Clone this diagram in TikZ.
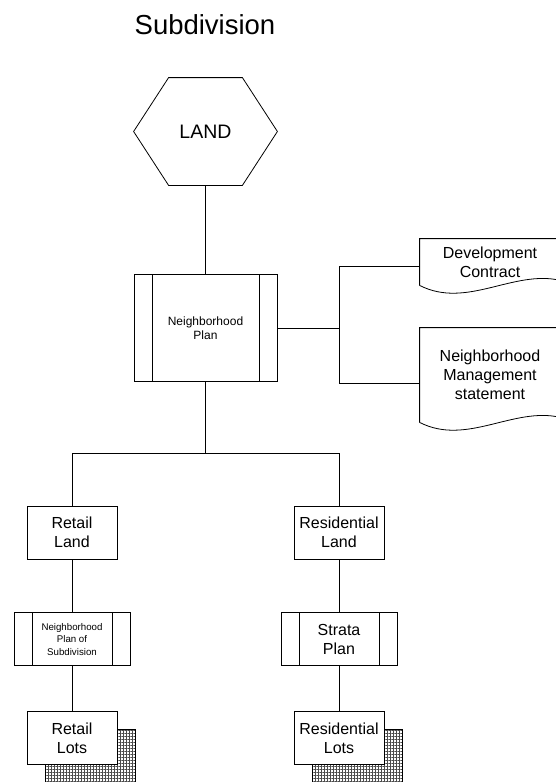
\documentclass[tikz,border=0pt]{standalone}
\usepackage{fontspec}
\setmainfont{Liberation Sans}
\usetikzlibrary{positioning,patterns.meta,shadows}

\begin{document}
\begin{tikzpicture}[
  x=1pt, y=1pt, line width=0.8pt,
  box/.style={draw, fill=white, minimum width=90pt, minimum height=53pt, inner sep=0pt, align=center, font=\fontsize{16}{19}\selectfont},
  procbox/.style={box, minimum width=116pt,
    path picture={
      \draw ([xshift=18pt]path picture bounding box.north west) -- ([xshift=18pt]path picture bounding box.south west);
      \draw ([xshift=-18pt]path picture bounding box.north east) -- ([xshift=-18pt]path picture bounding box.south east);
    }},
  docbox/.style={minimum width=140pt, inner sep=0pt, align=center, font=\fontsize{16}{19}\selectfont},
  lotbox/.style={box, general shadow={draw, pattern color=black!70,
    pattern={Hatch[distance=3pt, angle=0, line width=1pt]}, shadow xshift=18pt, shadow yshift=-18pt}},
  hexbox/.style={minimum width=143pt, minimum height=107pt, inner sep=0pt, font=\fontsize{19.5}{23}\selectfont},
  node distance=53pt
]
\useasboundingbox (0,0) rectangle (556,-782);

\node[font=\fontsize{27.5}{33}\selectfont] (title) at (205,-25) {Subdivision};

% land and the neighborhood plan
\node[hexbox] (land) at (205.5,-131.5) {LAND};
\draw (land.west) -- ([xshift=35pt]land.north west) -- ([xshift=-35pt]land.north east)
  -- (land.east) -- ([xshift=-35pt]land.south east) -- ([xshift=35pt]land.south west) -- cycle;

\node[procbox, minimum width=143pt, minimum height=107pt, font=\fontsize{12}{14.5}\selectfont,
  below=89pt of land] (plan) {Neighborhood\\Plan};

% documents on the right
\node[docbox, minimum height=46pt] (dev) at (490,-262) {Development\\Contract};
\node[docbox, minimum height=94pt] (nms) at (490,-375) {Neighborhood\\Management\\statement};
\foreach \doc in {dev,nms}
  \draw (\doc.south west) -- (\doc.north west) -- (\doc.north east) -- ([yshift=5pt]\doc.south east)
    .. controls ([xshift=-47pt,yshift=16pt]\doc.south east) and ([xshift=47pt,yshift=-24pt]\doc.south west)
    .. (\doc.south west);

% two branches
\node[box] (retail) at (72,-532.5) {Retail\\Land};
\node[box] (resland) at (339,-532.5) {Residential\\Land};

\node[procbox, font=\fontsize{9.7}{12.3}\selectfont, below=of retail] (subplan) {Neighborhood\\Plan of\\Subdivision};
\node[procbox, below=of resland] (strata) {Strata\\Plan};

\node[lotbox, below=45pt of subplan] (retlots) {Retail\\Lots};
\node[lotbox, below=45pt of strata] (reslots) {Residential\\Lots};

\coordinate[right=62pt of plan.east] (split);
\coordinate[below=71pt of plan.south] (fork);

\draw (land) -- (plan);
\draw (plan.east) -- (split);
\draw ([yshift=-4pt]dev.west) -| (split) |- ([yshift=-8pt]nms.west);
\draw (plan) -- (fork);
\draw (retail) |- (fork) -| (resland);
\draw (retail) -- (subplan);
\draw (subplan) -- (retlots);
\draw (resland) -- (strata);
\draw (strata) -- (reslots);

\end{tikzpicture}
\end{document}
